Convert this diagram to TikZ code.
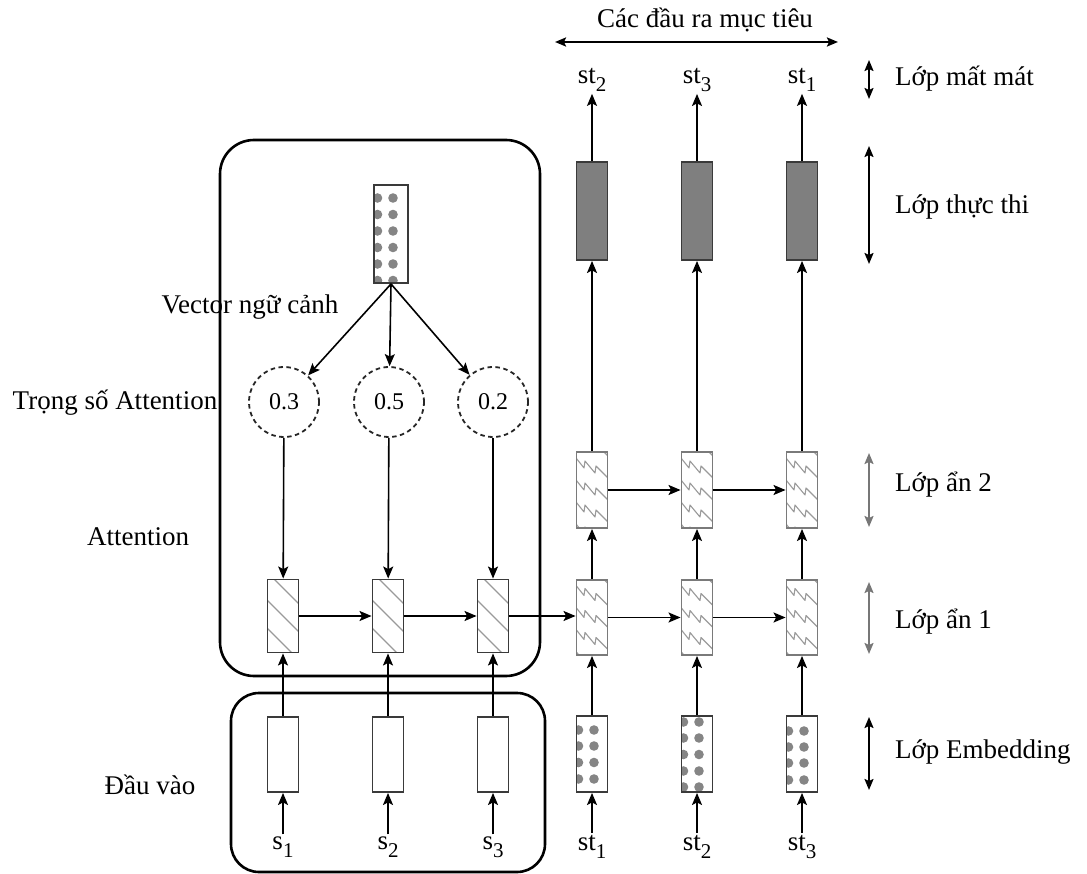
\documentclass[tikz,border=0pt]{standalone}
\usepackage{fontspec}
\setmainfont{Liberation Serif}
\usetikzlibrary{arrows.meta}
\definecolor{patgray}{HTML}{9A9A9A}
\definecolor{dotgray}{HTML}{858585}
\definecolor{darkfill}{HTML}{7F7F7F}
\definecolor{boxedge}{HTML}{3A3A3A}
\definecolor{zigedge}{HTML}{7A7A7A}
\definecolor{scalegray}{HTML}{777777}
\newcommand\sbs[1]{\raisebox{-0.3em}{\fontsize{21}{21}\selectfont #1}}
\newcommand\hatchpat[2]{\begin{scope}[shift={(#1,#2)}]\clip (-15.5,-36.5) rectangle (15.5,36.5);
  \foreach \c in {-84,-56,...,84} {\draw[patgray,line width=1.1pt] (-16,\c-16) -- (16,\c+16);}\end{scope}}
\newcommand\zigpat[2]{\begin{scope}[shift={(#1,#2)}]\clip (-15.5,-38) rectangle (15.5,38);
  \foreach \c in {-44,-22,0,22,44} {\draw[patgray,line width=1.1pt,line join=round] (-16,\c-10) -- (-8,\c) -- (-7,\c-7) -- (3,\c+5) -- (4,\c-2) -- (16,\c+10);}\end{scope}}
\newcommand\dotpat[5]{\begin{scope}[shift={(#1,#2)}]\clip (-#3,-#4) rectangle (#3,#4);
  \foreach \yy in {#5} {\fill[dotgray] (-13.5,\yy) circle (4.8pt); \fill[dotgray] (2,\yy) circle (4.8pt);}\end{scope}}
\begin{document}
\begin{tikzpicture}[x=1pt,y=-1pt,
  arr/.style={-{Stealth[length=12pt,width=10pt,inset=2.5pt]}, line width=1.6pt},
  dbl/.style={{Stealth[length=11pt,width=9pt,inset=2pt]}-{Stealth[length=11pt,width=9pt,inset=2pt]}, line width=1.8pt},
  lbl/.style={font=\fontsize{27}{31}\selectfont, inner sep=2pt},
  plainbox/.style={draw=boxedge, line width=1.9pt, minimum width=31pt, minimum height=75pt, inner sep=0pt},
  hatchbox/.style={draw=boxedge, line width=1.9pt, minimum width=31pt, minimum height=73pt, inner sep=0pt},
  zigbox/.style={draw=zigedge, line width=1.9pt, minimum width=31pt, minimum height=76pt, inner sep=0pt},
  dotbox/.style={draw=boxedge, line width=1.9pt, minimum width=31pt, minimum height=76pt, inner sep=0pt},
  darkbox/.style={draw=boxedge, fill=darkfill, line width=1.9pt, minimum width=31pt, minimum height=98pt, inner sep=0pt},
  wcirc/.style={circle, draw=black!85, dashed, dash pattern=on 4.5pt off 3.5pt, line width=1.8pt, minimum size=70pt, inner sep=0pt, font=\fontsize{24}{28}\selectfont},
  group/.style={draw=black, line width=2.6pt, rounded corners=34pt, inner sep=0pt}
]
\useasboundingbox (0,0) rectangle (1087,874);

% group frames
\node[group, minimum width=320pt, minimum height=536pt] (gtop) at (380,408) {};
\node[group, minimum width=314pt, minimum height=179pt, rounded corners=28pt] (gbot) at (388,782.5) {};

% patterns
\dotpat{391}{234}{17}{49}{-36,-19.5,-3,13.5,30,46.5}
\foreach \x in {283,388,493} {\hatchpat{\x}{616}}
\foreach \x in {592,697,802} {\zigpat{\x}{617.5}\zigpat{\x}{490}}
\dotpat{592}{754}{15.5}{38}{-24,-8,8.5,25}
\dotpat{697}{754}{15.5}{38}{-32,-16,0.5,17,33}
\dotpat{802}{754}{15.5}{38}{-23,-7,9,26}

% left part nodes
\node[dotbox, minimum width=34pt, minimum height=98pt] (cv) at (391,234) {};
\node[wcirc] (w1) at (284,402) {0.3};
\node[wcirc] (w2) at (389,402) {0.5};
\node[wcirc] (w3) at (493,402) {0.2};
\node[hatchbox] (h1) at (283,616) {};
\node[hatchbox] (h2) at (388,616) {};
\node[hatchbox] (h3) at (493,616) {};
\node[plainbox] (i1) at (283,754.5) {};
\node[plainbox] (i2) at (388,754.5) {};
\node[plainbox] (i3) at (493,754.5) {};
\node[lbl] (s1) at (283,847) {s\sbs{1}};
\node[lbl] (s2) at (388,847) {s\sbs{2}};
\node[lbl] (s3) at (493,847) {s\sbs{3}};

% right part nodes
\node[dotbox] (e1) at (592,754) {};
\node[dotbox] (e2) at (697,754) {};
\node[dotbox] (e3) at (802,754) {};
\node[zigbox, minimum height=75pt] (a1) at (592,617.5) {};
\node[zigbox, minimum height=75pt] (a2) at (697,617.5) {};
\node[zigbox, minimum height=75pt] (a3) at (802,617.5) {};
\node[zigbox] (b1) at (592,490) {};
\node[zigbox] (b2) at (697,490) {};
\node[zigbox] (b3) at (802,490) {};
\node[darkbox] (d1) at (592,211) {};
\node[darkbox] (d2) at (697,211) {};
\node[darkbox] (d3) at (802,211) {};
\node[lbl] (t1) at (592,80) {st\sbs{2}};
\node[lbl] (t2) at (697,80) {st\sbs{3}};
\node[lbl] (t3) at (802,80) {st\sbs{1}};
\node[lbl] (u1) at (592,847) {st\sbs{1}};
\node[lbl] (u2) at (697,847) {st\sbs{2}};
\node[lbl] (u3) at (802,847) {st\sbs{3}};

% left texts
\node[lbl] (lctx) at (250,307) {Vector ngữ cảnh};
\node[lbl] (lw) at (115,403) {Trọng số Attention};
\node[lbl] (latt) at (138,537) {Attention};
\node[lbl] (lin) at (150,785) {Đầu vào};

% connectors left
\foreach \k in {1,2,3} {
  \draw[arr] (cv.south) -- (w\k);
  \draw[arr] (w\k) -- (h\k);
  \draw[arr] (i\k) -- (h\k);
  \draw[arr] (s\k) -- (i\k);
}
\draw[arr] (h1) -- (h2);
\draw[arr] (h2) -- (h3);
\draw[arr] (h3.east) -- (h3.east -| a1.west);

% connectors right
\foreach \k in {1,2,3} {
  \draw[arr] (u\k) -- (e\k);
  \draw[arr] (e\k) -- (a\k);
  \draw[arr] (a\k) -- (b\k);
  \draw[arr] (b\k) -- (d\k);
  \draw[arr] (d\k) -- (t\k);
}
\draw[arr] (a1) -- (a2);
\draw[arr] (a2) -- (a3);
\draw[arr] (b1) -- (b2);
\draw[arr] (b2) -- (b3);

% top target outputs
\node[lbl] (ttl) at (705,20) {Các đầu ra mục tiêu};
\coordinate (tl) at (555,42);
\coordinate (tr) at (838,42);
\draw[dbl, line width=2.2pt] (tl) -- (tr);

% right scale labels
\coordinate (m1) at (869,60);  \coordinate (m2) at (869,99);
\coordinate (x1) at (869,146); \coordinate (x2) at (869,264);
\coordinate (p1) at (869,453); \coordinate (p2) at (869,527);
\coordinate (q1) at (869,582); \coordinate (q2) at (869,654);
\coordinate (r1) at (869,717); \coordinate (r2) at (869,790);
\draw[dbl] (m1) -- (m2);
\draw[dbl] (x1) -- (x2);
\draw[dbl, scalegray] (p1) -- (p2);
\draw[dbl, scalegray] (q1) -- (q2);
\draw[dbl] (r1) -- (r2);
\node[lbl, anchor=west] (lm) at (893,79) {Lớp mất mát};
\node[lbl, anchor=west] (lx) at (893,207) {Lớp thực thi};
\node[lbl, anchor=west] (lp) at (893,485) {Lớp ẩn 2};
\node[lbl, anchor=west] (lq) at (893,622) {Lớp ẩn 1};
\node[lbl, anchor=west] (lr) at (893,752) {Lớp Embedding};
\end{tikzpicture}
\end{document}
